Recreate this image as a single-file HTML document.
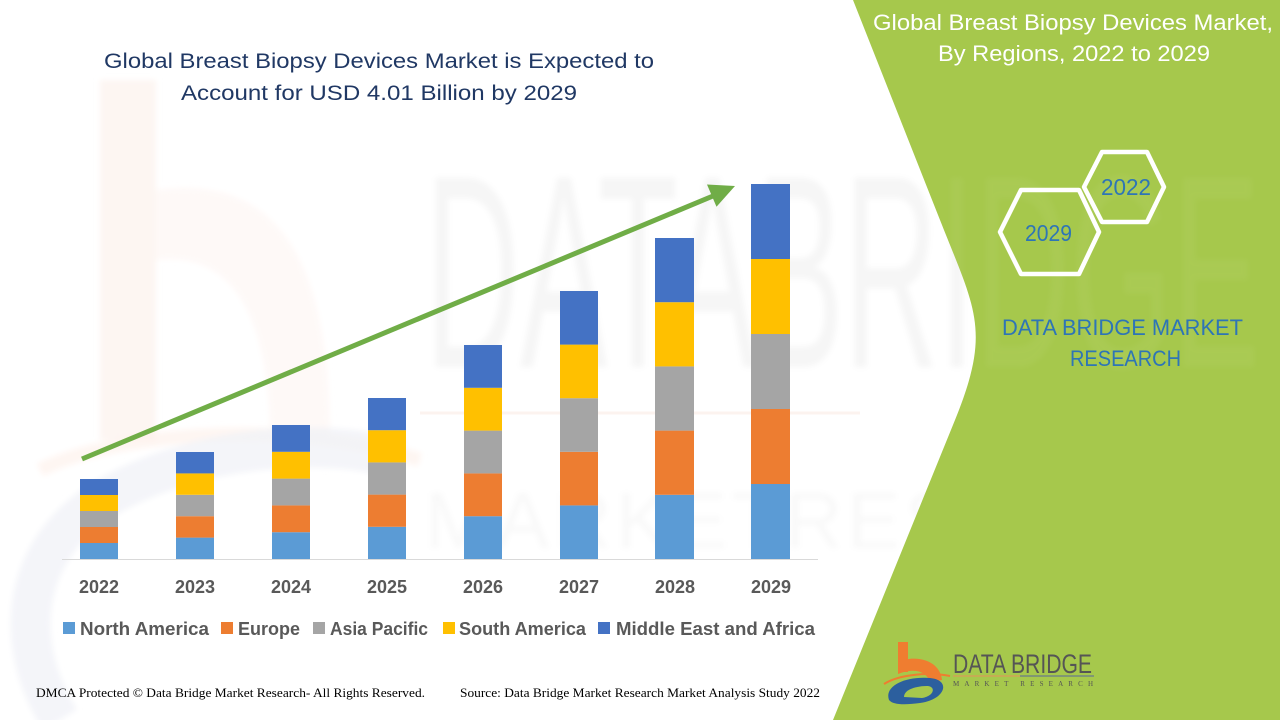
<!DOCTYPE html>
<html>
<head>
<meta charset="utf-8">
<style>
  html,body{margin:0;padding:0;background:#fff;}
  body{width:1280px;height:720px;overflow:hidden;}
  svg{display:block;}
</style>
</head>
<body>
<svg width="1280" height="720" viewBox="0 0 1280 720" xmlns="http://www.w3.org/2000/svg">
  <defs>
    <filter id="bl" x="-10%" y="-10%" width="120%" height="120%"><feGaussianBlur stdDeviation="3"/></filter>
  </defs>
  <rect x="0" y="0" width="1280" height="720" fill="#ffffff"/>

  <!-- faint background logo watermark -->
  <g filter="url(#bl)">
    <rect x="100" y="80" width="56" height="360" fill="#fdf4ef" opacity="0.8"/>
    <path d="M156,190 C300,170 330,300 330,440 L270,440 C270,330 240,250 156,260 Z" fill="#fdf4ef" opacity="0.5"/>
    <path d="M40,470 C120,430 300,420 420,460" fill="none" stroke="#fdf0ea" stroke-width="14" opacity="0.6"/>
    <path d="M60,720 C10,640 20,540 120,490 C220,440 340,440 400,460" fill="none" stroke="#f1f3f7" stroke-width="40" opacity="0.8"/>
  </g>

  <!-- faint DATA BRIDGE watermark -->
  <g filter="url(#bl)">
    <text x="425" y="367" font-family="Liberation Sans, sans-serif" font-size="275" fill="#000" opacity="0.035" textLength="835" lengthAdjust="spacingAndGlyphs">DATABRIDGE</text>
    <text x="425" y="548" font-family="Liberation Sans, sans-serif" font-size="80" fill="#000" opacity="0.025" textLength="835" lengthAdjust="spacing">MARKETRESEARCH</text>
  </g>
  <line x1="420" y1="413" x2="860" y2="413" stroke="#fbece4" stroke-width="3" opacity="0.6"/>

  <!-- green right panel -->
  <path d="M853,0 L1280,0 L1280,720 L833,720 L955,420 C991.6,330 975.5,310 940,220 Z" fill="#a6c84c"/>
  <!-- faint watermark over green -->
  <text x="425" y="367" font-family="Liberation Sans, sans-serif" font-size="275" fill="#ffffff" opacity="0.04" textLength="835" lengthAdjust="spacingAndGlyphs" filter="url(#bl)">DATABRIDGE</text>

  <!-- main title -->
  <text x="104" y="68" font-family="Liberation Sans, sans-serif" font-size="21" fill="#203864" textLength="550" lengthAdjust="spacingAndGlyphs">Global Breast Biopsy Devices Market is Expected to</text>
  <text x="181" y="100" font-family="Liberation Sans, sans-serif" font-size="21" fill="#203864" textLength="396" lengthAdjust="spacingAndGlyphs">Account for USD 4.01 Billion by 2029</text>

  <!-- bars -->
  <g>
    <rect x="80" y="543" width="38" height="16" fill="#5b9bd5"/>
    <rect x="80" y="527" width="38" height="16" fill="#ed7d31"/>
    <rect x="80" y="511" width="38" height="16" fill="#a5a5a5"/>
    <rect x="80" y="495" width="38" height="16" fill="#ffc000"/>
    <rect x="80" y="479" width="38" height="16" fill="#4472c4"/>

    <rect x="176" y="537.6" width="38" height="21.4" fill="#5b9bd5"/>
    <rect x="176" y="516.2" width="38" height="21.4" fill="#ed7d31"/>
    <rect x="176" y="494.8" width="38" height="21.4" fill="#a5a5a5"/>
    <rect x="176" y="473.4" width="38" height="21.4" fill="#ffc000"/>
    <rect x="176" y="452" width="38" height="21.4" fill="#4472c4"/>

    <rect x="272" y="532.2" width="38" height="26.8" fill="#5b9bd5"/>
    <rect x="272" y="505.4" width="38" height="26.8" fill="#ed7d31"/>
    <rect x="272" y="478.6" width="38" height="26.8" fill="#a5a5a5"/>
    <rect x="272" y="451.8" width="38" height="26.8" fill="#ffc000"/>
    <rect x="272" y="425" width="38" height="26.8" fill="#4472c4"/>

    <rect x="368" y="526.8" width="38" height="32.2" fill="#5b9bd5"/>
    <rect x="368" y="494.6" width="38" height="32.2" fill="#ed7d31"/>
    <rect x="368" y="462.4" width="38" height="32.2" fill="#a5a5a5"/>
    <rect x="368" y="430.2" width="38" height="32.2" fill="#ffc000"/>
    <rect x="368" y="398" width="38" height="32.2" fill="#4472c4"/>

    <rect x="464" y="516.2" width="38" height="42.8" fill="#5b9bd5"/>
    <rect x="464" y="473.4" width="38" height="42.8" fill="#ed7d31"/>
    <rect x="464" y="430.6" width="38" height="42.8" fill="#a5a5a5"/>
    <rect x="464" y="387.8" width="38" height="42.8" fill="#ffc000"/>
    <rect x="464" y="345" width="38" height="42.8" fill="#4472c4"/>

    <rect x="560" y="505.4" width="38" height="53.6" fill="#5b9bd5"/>
    <rect x="560" y="451.8" width="38" height="53.6" fill="#ed7d31"/>
    <rect x="560" y="398.2" width="38" height="53.6" fill="#a5a5a5"/>
    <rect x="560" y="344.6" width="38" height="53.6" fill="#ffc000"/>
    <rect x="560" y="291" width="38" height="53.6" fill="#4472c4"/>

    <rect x="655" y="494.8" width="39" height="64.2" fill="#5b9bd5"/>
    <rect x="655" y="430.6" width="39" height="64.2" fill="#ed7d31"/>
    <rect x="655" y="366.4" width="39" height="64.2" fill="#a5a5a5"/>
    <rect x="655" y="302.2" width="39" height="64.2" fill="#ffc000"/>
    <rect x="655" y="238" width="39" height="64.2" fill="#4472c4"/>

    <rect x="751" y="484" width="39" height="75" fill="#5b9bd5"/>
    <rect x="751" y="409" width="39" height="75" fill="#ed7d31"/>
    <rect x="751" y="334" width="39" height="75" fill="#a5a5a5"/>
    <rect x="751" y="259" width="39" height="75" fill="#ffc000"/>
    <rect x="751" y="184" width="39" height="75" fill="#4472c4"/>
  </g>

  <!-- baseline -->
  <line x1="62" y1="559.5" x2="818" y2="559.5" stroke="#d9d9d9" stroke-width="1"/>

  <!-- arrow -->
  <line x1="82" y1="459" x2="713" y2="196" stroke="#70ad47" stroke-width="5"/>
  <polygon points="735,186 707,184.5 716.5,206.7" fill="#70ad47"/>

  <!-- year labels -->
  <g font-family="Liberation Sans, sans-serif" font-weight="bold" font-size="18" fill="#595959" text-anchor="middle">
    <text x="99" y="593">2022</text>
    <text x="195" y="593">2023</text>
    <text x="291" y="593">2024</text>
    <text x="387" y="593">2025</text>
    <text x="483" y="593">2026</text>
    <text x="579" y="593">2027</text>
    <text x="675" y="593">2028</text>
    <text x="771" y="593">2029</text>
  </g>

  <!-- legend -->
  <g font-family="Liberation Sans, sans-serif" font-weight="bold" font-size="18" fill="#595959">
    <rect x="63" y="622" width="12" height="12" fill="#5b9bd5"/>
    <text x="80" y="635" textLength="129" lengthAdjust="spacingAndGlyphs">North America</text>
    <rect x="221" y="622" width="12" height="12" fill="#ed7d31"/>
    <text x="238" y="635" textLength="62" lengthAdjust="spacingAndGlyphs">Europe</text>
    <rect x="313" y="622" width="12" height="12" fill="#a5a5a5"/>
    <text x="330" y="635" textLength="98" lengthAdjust="spacingAndGlyphs">Asia Pacific</text>
    <rect x="443" y="622" width="12" height="12" fill="#ffc000"/>
    <text x="459" y="635" textLength="127" lengthAdjust="spacingAndGlyphs">South America</text>
    <rect x="598" y="622" width="12" height="12" fill="#4472c4"/>
    <text x="616" y="635" textLength="199" lengthAdjust="spacingAndGlyphs">Middle East and Africa</text>
  </g>

  <!-- footer -->
  <text x="36" y="697" font-family="Liberation Serif, serif" font-size="13" fill="#000" textLength="389" lengthAdjust="spacingAndGlyphs">DMCA Protected © Data Bridge Market Research- All Rights Reserved.</text>
  <text x="460" y="697" font-family="Liberation Serif, serif" font-size="13" fill="#000" textLength="360" lengthAdjust="spacingAndGlyphs">Source: Data Bridge Market Research Market Analysis Study 2022</text>

  <!-- right panel title -->
  <text x="873" y="30" font-family="Liberation Sans, sans-serif" font-size="22" fill="#ffffff" textLength="400" lengthAdjust="spacingAndGlyphs">Global Breast Biopsy Devices Market,</text>
  <text x="938" y="61" font-family="Liberation Sans, sans-serif" font-size="22" fill="#ffffff" textLength="272" lengthAdjust="spacingAndGlyphs">By Regions, 2022 to 2029</text>

  <!-- hexagons -->
  <polygon points="1084,187 1102,152 1147,152 1164,187 1147,222 1102,222" fill="none" stroke="#ffffff" stroke-width="4.5" stroke-linejoin="round"/>
  <polygon points="1000,232 1021,190 1079,190 1099,232 1079,274 1021,274" fill="none" stroke="#ffffff" stroke-width="4.5" stroke-linejoin="round"/>
  <text x="1101" y="195" font-family="Liberation Sans, sans-serif" font-size="23" fill="#2e75b6" textLength="50" lengthAdjust="spacingAndGlyphs">2022</text>
  <text x="1025" y="241" font-family="Liberation Sans, sans-serif" font-size="23" fill="#2e75b6" textLength="47" lengthAdjust="spacingAndGlyphs">2029</text>

  <!-- DBMR text -->
  <text x="1002" y="335" font-family="Liberation Sans, sans-serif" font-size="22" fill="#2e75b6" textLength="241" lengthAdjust="spacingAndGlyphs">DATA BRIDGE MARKET</text>
  <text x="1070" y="366" font-family="Liberation Sans, sans-serif" font-size="22" fill="#2e75b6" textLength="111" lengthAdjust="spacingAndGlyphs">RESEARCH</text>

  <!-- bottom logo -->
  <g>
    <rect x="898" y="642" width="10" height="30" fill="#ef7d30"/>
    <path d="M898,662 C915,654 940,660 942,680 L930,682 C926,670 912,668 898,674 Z" fill="#ef7d30"/>
    <path d="M884,684 C900,674 930,672 950,676" fill="none" stroke="#ef7d30" stroke-width="2"/>
    <path d="M889,700 C884,686 905,676 930,678 C952,680 945,700 920,703 C905,705 893,705 889,700 Z" fill="#2c5f9e"/>
    <path d="M904,697 C904,690 915,686 928,686 C936,687 934,696 922,698 Z" fill="#a6c84c"/>
    <text x="953" y="673" font-family="Liberation Sans, sans-serif" font-size="27" fill="#555555" textLength="139" lengthAdjust="spacingAndGlyphs">DATA BRIDGE</text>
    <line x1="953" y1="676" x2="1020" y2="676" stroke="#d99a5a" stroke-width="1.2"/>
    <line x1="1020" y1="676" x2="1094" y2="676" stroke="#6a7a8a" stroke-width="1.2"/>
    <text x="953" y="686" font-family="Liberation Serif, serif" font-size="7" fill="#555555" textLength="140" lengthAdjust="spacing">MARKET   RESEARCH</text>
  </g>
</svg>
</body>
</html>
